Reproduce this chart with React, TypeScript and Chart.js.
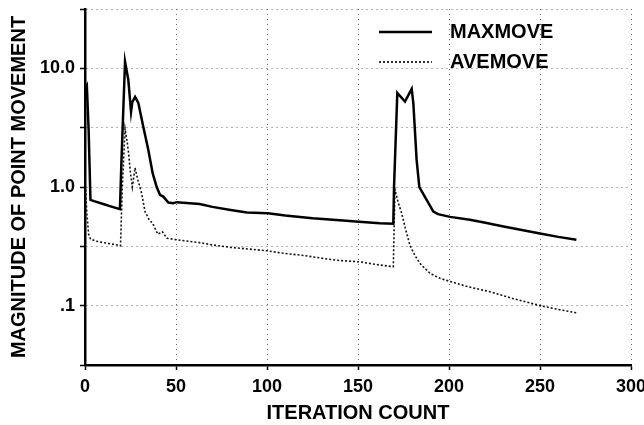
import React, { useEffect, useRef } from "react";
import { Chart, registerables } from "chart.js";

Chart.register(...registerables);

// MAXMOVE series (iteration, magnitude)
const maxIter = [0, 1, 2, 3, 5, 10, 15, 19.2, 20, 20.7, 22, 23.8, 25.3, 26, 27.5, 29.3, 32, 34.8, 37.2, 39.4, 41.2, 43, 45.8, 48.5, 50.4, 63, 70, 80, 89, 100.5, 110, 125, 140, 150.6, 162, 169.4, 169.8, 171.6, 175.8, 179.5, 180.4, 182.2, 183.7, 191.4, 194, 200.6, 211.5, 220, 230, 240, 250, 260, 270];
const maxVal = [6.8, 7.2, 3.0, 0.78, 0.76, 0.72, 0.68, 0.65, 1.6, 3.2, 11.4, 8.0, 4.3, 5.2, 5.75, 5.1, 3.23, 2.05, 1.3, 1.0, 0.86, 0.83, 0.74, 0.73, 0.745, 0.72, 0.68, 0.64, 0.61, 0.6, 0.575, 0.545, 0.525, 0.51, 0.494, 0.49, 1.0, 6.2, 5.25, 6.7, 5.1, 1.7, 1.0, 0.62, 0.59, 0.56, 0.53, 0.5, 0.465, 0.435, 0.406, 0.38, 0.36];

// AVEMOVE series (iteration, magnitude)
const aveIter = [0, 1, 2, 3, 6, 10, 15, 19.5, 20.5, 22, 23, 24, 25, 26, 27.5, 29, 31, 33, 35.5, 37, 40, 42.5, 45, 50, 63, 70, 80, 90, 100, 110, 120, 131, 140, 151, 162, 169.4, 170.3, 172, 174, 176, 178.6, 181, 184, 189.6, 195, 200.6, 210, 222.5, 235, 250, 260, 270];
const aveVal = [1.2, 0.6, 0.4, 0.365, 0.35, 0.34, 0.33, 0.32, 1.0, 3.1, 2.5, 1.9, 1.3, 1.0, 1.45, 1.15, 0.9, 0.62, 0.52, 0.5, 0.4, 0.42, 0.37, 0.36, 0.34, 0.325, 0.31, 0.3, 0.29, 0.275, 0.265, 0.25, 0.24, 0.234, 0.22, 0.213, 0.95, 0.75, 0.6, 0.45, 0.32, 0.27, 0.227, 0.187, 0.17, 0.16, 0.145, 0.131, 0.115, 0.1, 0.093, 0.087];

const seriesLabels = ["MAXMOVE", "AVEMOVE"];

const xMin = 0;
const xMax = 300;
const xStep = 50;

const yTickValues = [Math.pow(10, -1.5), 0.1, Math.pow(10, -0.5), 1, Math.pow(10, 0.5), 10, Math.pow(10, 1.5)];
const yTickLabels = ["", ".1", "", "1.0", "", "10.0", ""];

const FONT = "'Liberation Sans', Arial, sans-serif";

const insetLegend = {
  id: "insetLegend",
  afterDraw(chart: any) {
    const { ctx, chartArea } = chart;
    chart.data.datasets.forEach((ds: any, i: number) => {
      const y = chartArea.top + 23 + i * 30;
      const x0 = chartArea.right - 252;
      const x1 = chartArea.right - 199;
      ctx.save();
      ctx.strokeStyle = "#000";
      ctx.lineWidth = ds.borderWidth;
      ctx.setLineDash(ds.borderDash || []);
      ctx.beginPath();
      ctx.moveTo(x0, y);
      ctx.lineTo(x1, y);
      ctx.stroke();
      ctx.setLineDash([]);
      ctx.fillStyle = "#000";
      ctx.font = `bold 20px ${FONT}`;
      ctx.textAlign = "left";
      ctx.textBaseline = "middle";
      ctx.fillText(ds.label, chartArea.right - 181, y);
      ctx.restore();
    });
  },
};

export default function App() {
  const canvasRef = useRef<HTMLCanvasElement | null>(null);

  useEffect(() => {
    document.body.style.margin = "0";
    const canvas = canvasRef.current;
    if (!canvas) return;
    const chart = new Chart(canvas, {
      type: "line",
      data: {
        datasets: [
          {
            label: seriesLabels[0],
            data: maxIter.map((x, i) => ({ x, y: maxVal[i] })),
            borderColor: "#000",
            borderWidth: 2.5,
            pointRadius: 0,
            tension: 0,
            fill: false,
          },
          {
            label: seriesLabels[1],
            data: aveIter.map((x, i) => ({ x, y: aveVal[i] })),
            borderColor: "#111",
            borderWidth: 1.6,
            borderDash: [2, 2],
            pointRadius: 0,
            tension: 0,
            fill: false,
          },
        ],
      },
      options: {
        animation: false,
        responsive: true,
        maintainAspectRatio: false,
        layout: { padding: { top: 9, right: 13, left: 0, bottom: 0 } },
        plugins: {
          legend: { display: false },
          tooltip: { enabled: false },
        },
        scales: {
          x: {
            type: "linear",
            min: xMin,
            max: xMax,
            ticks: {
              stepSize: xStep,
              color: "#000",
              padding: 6,
              maxRotation: 0,
              font: { family: FONT, size: 18, weight: "bold" },
            },
            grid: {
              color: "#666",
              lineWidth: 1,
              tickColor: "#000",
              tickLength: 5,
              tickWidth: 1.5,
            },
            border: { display: true, color: "#000", width: 2.5, dash: [1, 4] },
            title: {
              display: true,
              text: "ITERATION COUNT",
              color: "#000",
              padding: { top: 0, bottom: 0 },
              font: { family: FONT, size: 20, weight: "bold", lineHeight: 1.2 },
            },
            afterFit(scale: any) {
              scale.height = 60;
              scale.paddingLeft = 0;
              scale.paddingRight = 0;
            },
          },
          y: {
            type: "logarithmic",
            min: yTickValues[0],
            max: yTickValues[yTickValues.length - 1],
            afterBuildTicks(axis: any) {
              axis.ticks = yTickValues.map((v) => ({ value: v }));
            },
            ticks: {
              autoSkip: false,
              color: "#000",
              padding: 5,
              font: { family: FONT, size: 18, weight: "bold" },
              callback: (_v: any, i: number) => yTickLabels[i],
            },
            grid: {
              color: "#666",
              lineWidth: 1,
              tickColor: "#000",
              tickLength: 5,
              tickWidth: 1.5,
            },
            border: { display: true, color: "#000", width: 2.5, dash: [1, 4] },
            title: {
              display: true,
              text: "MAGNITUDE OF POINT MOVEMENT",
              color: "#000",
              padding: { top: 7, bottom: 0 },
              font: { family: FONT, size: 20, weight: "bold", lineHeight: 1.2 },
            },
            afterFit(scale: any) {
              scale.width = 85;
              scale.paddingTop = 0;
              scale.paddingBottom = 0;
            },
          },
        },
      },
      plugins: [insetLegend],
    });
    return () => chart.destroy();
  }, []);

  return (
    <div style={{ position: "relative", width: 644, height: 425 }}>
      <canvas ref={canvasRef} />
    </div>
  );
}
